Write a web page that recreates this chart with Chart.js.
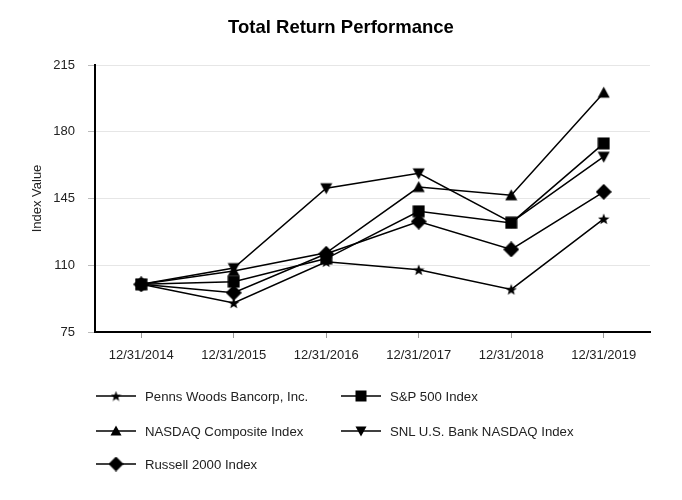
<!DOCTYPE html>
<html>
<head>
<meta charset="utf-8">
<script src="https://cdn.jsdelivr.net/npm/chart.js@4"></script>
<style>
  body { margin: 0; background: #fff; font-family: "Liberation Sans", Arial, sans-serif; }
  #wrap { position: relative; width: 682px; height: 500px; }
  #chart { position: absolute; left: 0; top: 0; }
  #title { position: absolute; left: 0; width: 682px; top: 16px; text-align: center; font-size: 18.5px; font-weight: bold; color: #000; }
  .lg { position: absolute; display: flex; align-items: center; font-size: 13.2px; color: #222; white-space: nowrap; }
  .lg canvas { display: block; margin-right: 9px; }
</style>
</head>
<body>
<div id="wrap">
  <canvas id="chart" width="682" height="500"></canvas>
  <div id="title">Total Return Performance</div>
</div>
<script>
// data
const years     = ['12/31/2014', '12/31/2015', '12/31/2016', '12/31/2017', '12/31/2018', '12/31/2019'];
const pennsWoods = [100, 90.2, 111.8, 107.6, 97.3, 134.3];
const sp500      = [100, 101.4, 113.5, 138.3, 132.2, 173.9];
const nasdaq     = [100, 107.0, 116.5, 151.0, 146.7, 200.5];
const snlBank    = [100, 108.5, 150.4, 158.2, 132.5, 166.9];
const russell    = [100, 95.6, 116.0, 132.9, 118.3, 148.5];
const yTicks     = [75, 110, 145, 180, 215];

const FONT = '"Liberation Sans", Arial, sans-serif';

// filled black marker drawn on a small canvas
function marker(kind, s) {
  const c = document.createElement('canvas');
  c.width = s; c.height = s;
  const g = c.getContext('2d');
  const m = s / 2;
  g.fillStyle = '#000';
  g.beginPath();
  if (kind === 'star') {
    for (let i = 0; i < 10; i++) {
      const r = i % 2 ? m * 0.42 : m;
      const a = -Math.PI / 2 + i * Math.PI / 5;
      g.lineTo(m + r * Math.cos(a), m + 0.5 + r * Math.sin(a));
    }
  } else if (kind === 'square') {
    g.rect(0.5, 0.5, s - 1, s - 1);
  } else if (kind === 'up') {
    g.moveTo(m, 0.5); g.lineTo(s - 0.5, s - 1.5); g.lineTo(0.5, s - 1.5);
  } else if (kind === 'down') {
    g.moveTo(0.5, 1.5); g.lineTo(s - 0.5, 1.5); g.lineTo(m, s - 0.5);
  } else if (kind === 'diamond') {
    g.moveTo(m, 0); g.lineTo(s, m); g.lineTo(m, s); g.lineTo(0, m);
  }
  g.closePath();
  g.fill();
  return c;
}

const series = [
  { label: 'Penns Woods Bancorp, Inc.', data: pennsWoods, kind: 'star',    size: 12, lsize: 11, col: 0, row: 0 },
  { label: 'S&P 500 Index',             data: sp500,      kind: 'square',  size: 13, lsize: 12, col: 1, row: 0 },
  { label: 'NASDAQ Composite Index',    data: nasdaq,     kind: 'up',      size: 13, lsize: 12, col: 0, row: 1 },
  { label: 'SNL U.S. Bank NASDAQ Index', data: snlBank,   kind: 'down',    size: 13, lsize: 12, col: 1, row: 1 },
  { label: 'Russell 2000 Index',        data: russell,    kind: 'diamond', size: 16, lsize: 15, col: 0, row: 2 },
];

const chart = new Chart(document.getElementById('chart'), {
  type: 'line',
  data: {
    labels: years,
    datasets: series.map(s => ({
      label: s.label,
      data: s.data,
      borderColor: '#000',
      borderWidth: 1.5,
      pointStyle: marker(s.kind, s.size),
      pointRadius: s.size / 2,
      tension: 0,
    })),
  },
  options: {
    responsive: false,
    animation: false,
    layout: { padding: { left: 10, right: 32, top: 65, bottom: 128 } },
    plugins: {
      legend: { display: false },
      tooltip: { enabled: false },
      title: { display: false },
    },
    scales: {
      x: {
        offset: true,
        border: { color: '#000', width: 2 },
        grid: { drawOnChartArea: false, drawTicks: true, tickLength: 6, tickColor: '#999' },
        ticks: { color: '#222', font: { family: FONT, size: 13 }, padding: 10, maxRotation: 0 },
        afterFit: sc => { sc.height = 40; },
      },
      y: {
        min: 75, max: 215,
        afterBuildTicks: sc => { sc.ticks = yTicks.map(v => ({ value: v })); },
        border: { color: '#000', width: 2 },
        grid: { color: '#e6e6e6', lineWidth: 1, tickLength: 7, tickColor: '#bbb' },
        ticks: { color: '#222', font: { family: FONT, size: 13 }, padding: 13 },
        title: {
          display: true, text: 'Index Value', color: '#222',
          font: { family: FONT, size: 13 }, padding: { top: 20, bottom: 0 },
        },
        afterFit: sc => { sc.width = 85; },
      },
    },
  },
});

// legend, two columns
const wrap = document.getElementById('wrap');
const rowY = [396, 431, 464];
const colX = [96, 341];
series.forEach(s => {
  const d = document.createElement('div');
  d.className = 'lg';
  const c = document.createElement('canvas');
  c.width = 40; c.height = 18;
  const g = c.getContext('2d');
  g.strokeStyle = '#000'; g.lineWidth = 1.5;
  g.beginPath(); g.moveTo(0, 9); g.lineTo(40, 9); g.stroke();
  g.drawImage(marker(s.kind, s.lsize), 20 - s.lsize / 2, 9 - s.lsize / 2);
  d.appendChild(c);
  d.appendChild(document.createTextNode(s.label));
  d.style.left = colX[s.col] + 'px';
  d.style.top = (rowY[s.row] - 9) + 'px';
  wrap.appendChild(d);
});
</script>
</body>
</html>
